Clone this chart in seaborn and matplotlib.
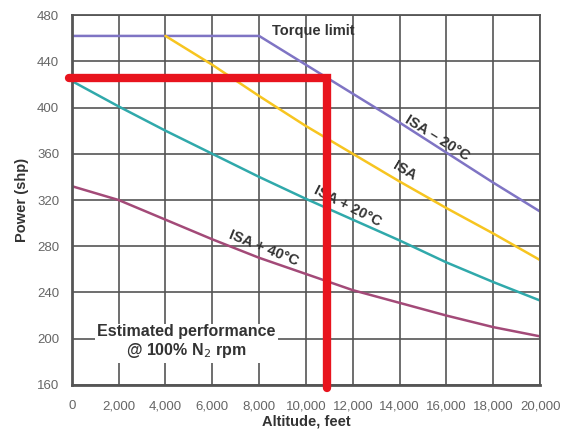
import numpy as np
import pandas as pd
import matplotlib
matplotlib.use("Agg")
import matplotlib.pyplot as plt
import seaborn as sns

# valores
alt_torque = [0, 8000, 10000, 12000, 14000, 16000, 18000, 20000]
pwr_torque = [462, 462, 437, 412, 387, 361, 335, 310]

alt_isa = [4000, 6000, 8000, 10000, 12000, 14000, 16000, 18000, 20000]
pwr_isa = [462, 437, 410, 384, 360, 336, 313, 291, 268]

alt_full = [0, 2000, 4000, 6000, 8000, 10000, 12000, 14000, 16000, 18000, 20000]
pwr_isa20 = [423, 401, 380, 360, 340, 321, 303, 285, 266, 249, 233]
pwr_isa40 = [332, 320, 303, 286, 270, 256, 242, 231, 220, 210, 202]

red_alt = 10900
red_power = 426

x_ticks = list(range(0, 20001, 2000))
y_ticks = list(range(160, 481, 40))

series = ["ISA \u2013 20\u00b0C", "ISA", "ISA + 20\u00b0C", "ISA + 40\u00b0C"]
colors = ["#7f74c4", "#f7c520", "#30a9ab", "#a34a78"]

df = pd.concat([
    pd.DataFrame({"alt": alt_torque, "pwr": pwr_torque, "curve": series[0]}),
    pd.DataFrame({"alt": alt_isa, "pwr": pwr_isa, "curve": series[1]}),
    pd.DataFrame({"alt": alt_full, "pwr": pwr_isa20, "curve": series[2]}),
    pd.DataFrame({"alt": alt_full, "pwr": pwr_isa40, "curve": series[3]}),
])

sns.set_style("whitegrid")
plt.rcParams['font.family'] = ['Liberation Sans', 'DejaVu Sans']

fig = plt.figure(figsize=(5.65, 4.32), dpi=100)
ax = fig.add_axes([0.127, 0.109, 0.829, 0.856])

sns.lineplot(data=df, x="alt", y="pwr", hue="curve", palette=dict(zip(series, colors)),
             estimator=None, sort=False, linewidth=1.8, legend=False, ax=ax)

ax.set_xlim(0, 20000)
ax.set_ylim(160, 480)
ax.set_xticks(x_ticks)
ax.set_yticks(y_ticks)
ax.set_xticklabels(["0"] + [f"{v:,}" for v in x_ticks[1:]])
ax.grid(True, color="#555555", linewidth=1.2)
ax.set_axisbelow(True)
for s in ax.spines.values():
    s.set_color("#555555")
    s.set_linewidth(1.3)
ax.spines["left"].set_linewidth(2)
ax.spines["bottom"].set_linewidth(2)
ax.tick_params(axis="both", length=0, labelsize=9.5, labelcolor="#666666")
ax.tick_params(axis="x", pad=11)
ax.tick_params(axis="y", pad=9)

ax.set_xlabel("Altitude, feet", fontsize=10.5, fontweight="bold", color="#333333", labelpad=2)
ax.set_ylabel("Power (shp)", fontsize=10.5, fontweight="bold", color="#333333", labelpad=6)

# linhas de leitura em vermelho
x_lo = ax.get_xlim()[0]
y_lo = ax.get_ylim()[0]
ax.plot([x_lo - 100, red_alt, red_alt], [red_power, red_power, y_lo - 3],
        color="#e8141e", linewidth=6, solid_joinstyle="miter",
        solid_capstyle="round", clip_on=False, zorder=5)

# rótulos das curvas
tc = "#333333"
fs = 10.5
ax.text(8550, 466, "Torque limit", fontsize=fs, fontweight="bold", color=tc,
        va="center", ha="left")
ax.text(15600, 374, series[0], fontsize=fs, fontweight="bold", color=tc,
        rotation=-32, ha="center", va="center", rotation_mode="anchor")
ax.text(14200, 345, series[1], fontsize=fs, fontweight="bold", color=tc,
        rotation=-31, ha="center", va="center", rotation_mode="anchor")
ax.text(11800, 315, series[2], fontsize=fs, fontweight="bold", color=tc,
        rotation=-27, ha="center", va="center", rotation_mode="anchor")
ax.text(8200, 278, series[3], fontsize=fs, fontweight="bold", color=tc,
        rotation=-22, ha="center", va="center", rotation_mode="anchor")

ax.text(4900, 197, "Estimated performance\n@ 100% N$_2$ rpm", fontsize=11.5,
        fontweight="bold", color=tc, ha="center", va="center", linespacing=1.1,
        bbox=dict(facecolor="white", edgecolor="none", pad=2), zorder=4)

fig.savefig("out.png", dpi=100)
